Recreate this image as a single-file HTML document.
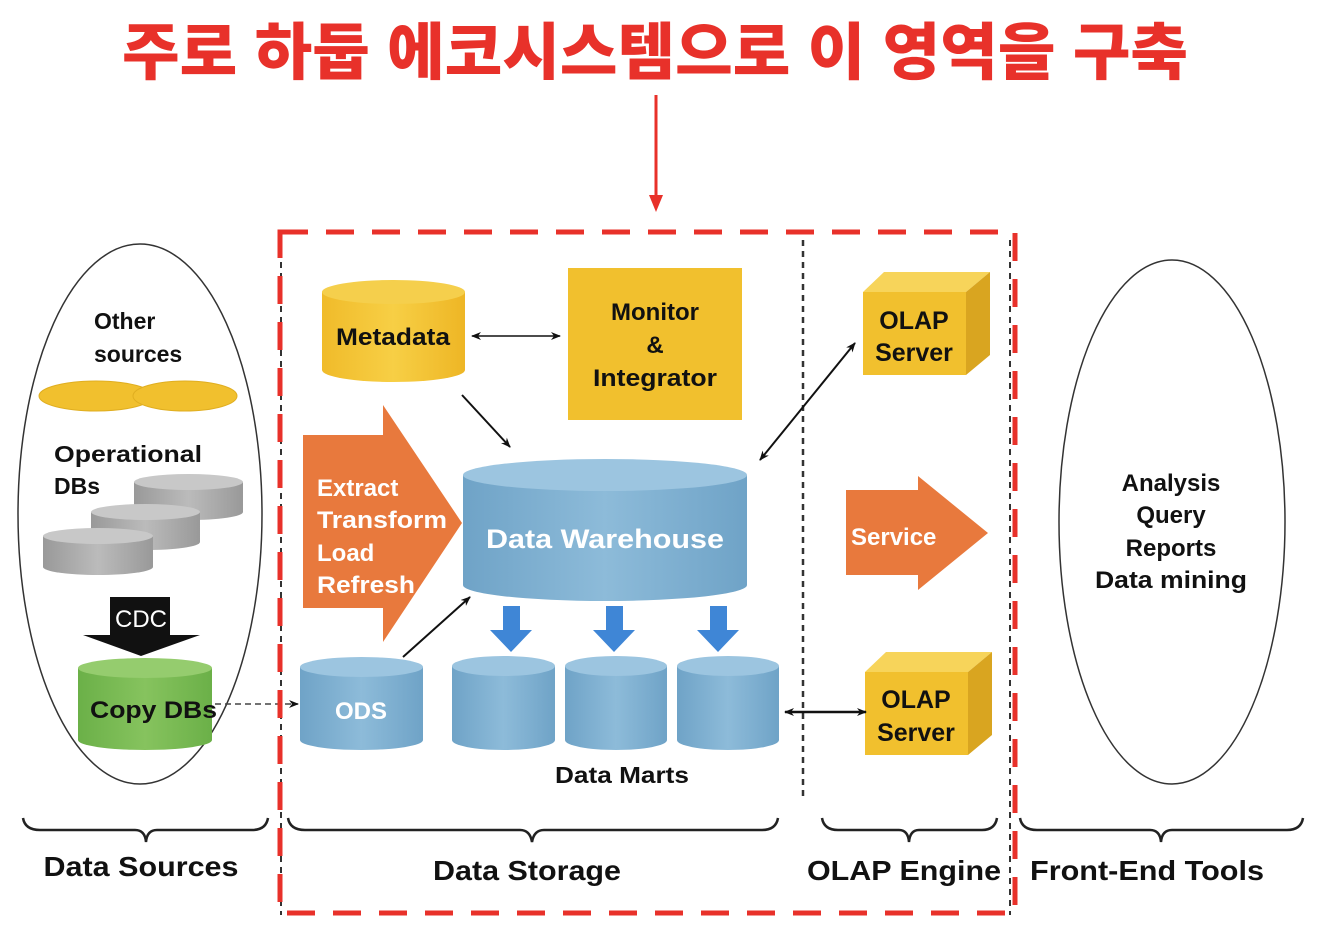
<!DOCTYPE html>
<html><head><meta charset="utf-8"><style>
html,body{margin:0;padding:0;background:#fff}
svg{display:block}
text{font-family:"Liberation Sans",Arial,sans-serif;font-weight:bold}
</style></head><body>
<svg width="1326" height="940" viewBox="0 0 1326 940" xmlns="http://www.w3.org/2000/svg">
<defs>
<marker id="a" markerWidth="10" markerHeight="8" refX="9" refY="4" orient="auto-start-reverse" markerUnits="userSpaceOnUse"><path d="M0,0 L10,4 L0,8 L3,4z" fill="#111"/></marker>
<linearGradient id="blue" x1="0" x2="1"><stop offset="0" stop-color="#6fa3c7"/><stop offset=".5" stop-color="#8dbbd9"/><stop offset="1" stop-color="#6fa3c7"/></linearGradient>
<linearGradient id="yel" x1="0" x2="1"><stop offset="0" stop-color="#f0bb2a"/><stop offset=".5" stop-color="#f7cf45"/><stop offset="1" stop-color="#eeb625"/></linearGradient>
<linearGradient id="gry" x1="0" x2="1"><stop offset="0" stop-color="#999"/><stop offset=".5" stop-color="#bbb"/><stop offset="1" stop-color="#999"/></linearGradient>
<linearGradient id="grn" x1="0" x2="1"><stop offset="0" stop-color="#6bb048"/><stop offset=".5" stop-color="#86c35e"/><stop offset="1" stop-color="#6bb048"/></linearGradient>
</defs>

<text x="655" y="74" text-anchor="middle" font-size="62" textLength="1066" lengthAdjust="spacingAndGlyphs" fill="#e8312a" style="font-family:'Liberation Sans','Noto Sans CJK KR',sans-serif;font-weight:900">주로 하둡 에코시스템으로 이 영역을 구축</text>
<line x1="656" y1="95" x2="656" y2="198" stroke="#e8312a" stroke-width="3"/>
<path d="M649,195 L663,195 L656,212z" fill="#e8312a"/>

<ellipse cx="140" cy="514" rx="122" ry="270" fill="none" stroke="#333" stroke-width="1.5"/>
<ellipse cx="1172" cy="522" rx="113" ry="262" fill="none" stroke="#333" stroke-width="1.5"/>

<line x1="281" y1="240" x2="281" y2="915" stroke="#333" stroke-width="2" stroke-dasharray="6,5"/>
<line x1="803" y1="240" x2="803" y2="800" stroke="#333" stroke-width="2.5" stroke-dasharray="6,5"/>
<line x1="1010" y1="240" x2="1010" y2="915" stroke="#333" stroke-width="2" stroke-dasharray="6,5"/>

<text x="94" y="329" font-size="23" fill="#111">Other</text>
<text x="94" y="362" font-size="23" fill="#111">sources</text>
<ellipse cx="96" cy="396" rx="57" ry="15" fill="#f1c02e" stroke="#e0ae20"/>
<ellipse cx="185" cy="396" rx="52" ry="15" fill="#f1c02e" stroke="#e0ae20"/>
<text x="54" y="462" font-size="23" fill="#111" textLength="148" lengthAdjust="spacingAndGlyphs">Operational</text>
<text x="54" y="494" font-size="23" fill="#111">DBs</text>
<g>
<path d="M134,482 V512 A54,8 0 0 0 243,512 V482z" fill="url(#gry)"/><ellipse cx="188.5" cy="482" rx="54.5" ry="8" fill="#c8c8c8"/>
<path d="M91,512 V542 A54,8 0 0 0 200,542 V512z" fill="url(#gry)"/><ellipse cx="145.5" cy="512" rx="54.5" ry="8" fill="#c8c8c8"/>
<path d="M43,536 V567 A55,8 0 0 0 153,567 V536z" fill="url(#gry)"/><ellipse cx="98" cy="536" rx="55" ry="8" fill="#c8c8c8"/>
</g>
<path d="M110,597 H170 V635 H200 L141,656 L83,635 H110z" fill="#111"/>
<text x="141" y="627" text-anchor="middle" font-size="24" fill="#fff" style="font-weight:normal">CDC</text>
<path d="M78,668 V740 A67,10 0 0 0 212,740 V668z" fill="url(#grn)"/><ellipse cx="145" cy="668" rx="67" ry="10" fill="#95cc6e"/>
<text x="90" y="718" font-size="24" fill="#111" textLength="127" lengthAdjust="spacingAndGlyphs">Copy DBs</text>
<line x1="215" y1="704" x2="298" y2="704" stroke="#444" stroke-width="1.5" stroke-dasharray="6,4" marker-end="url(#a)"/>

<path d="M322,292 V370 A71.5,12 0 0 0 465,370 V292z" fill="url(#yel)"/><ellipse cx="393.5" cy="292" rx="71.5" ry="12" fill="#f5cf4c"/>
<text x="393" y="345" text-anchor="middle" font-size="24" fill="#111" textLength="114" lengthAdjust="spacingAndGlyphs">Metadata</text>
<rect x="568" y="268" width="174" height="152" fill="#f1c02e"/>
<text x="655" y="320" text-anchor="middle" font-size="24" fill="#111">Monitor</text>
<text x="655" y="353" text-anchor="middle" font-size="24" fill="#111">&amp;</text>
<text x="655" y="386" text-anchor="middle" font-size="24" fill="#111" textLength="124" lengthAdjust="spacingAndGlyphs">Integrator</text>
<line x1="472" y1="336" x2="560" y2="336" stroke="#111" stroke-width="1.5" marker-start="url(#a)" marker-end="url(#a)"/>
<line x1="462" y1="395" x2="510" y2="447" stroke="#111" stroke-width="2" marker-end="url(#a)"/>

<path d="M303,435 H383 V405 L462,523 L383,642 V608 H303z" fill="#e8793d"/>
<text x="317" y="496" font-size="24" fill="#fff">Extract</text>
<text x="317" y="528" font-size="24" fill="#fff" textLength="130" lengthAdjust="spacingAndGlyphs">Transform</text>
<text x="317" y="561" font-size="24" fill="#fff">Load</text>
<text x="317" y="593" font-size="24" fill="#fff" textLength="98" lengthAdjust="spacingAndGlyphs">Refresh</text>

<path d="M463,475 V585 A142,16 0 0 0 747,585 V475z" fill="url(#blue)"/><ellipse cx="605" cy="475" rx="142" ry="16" fill="#9cc5e0"/>
<text x="605" y="548" text-anchor="middle" font-size="27" fill="#fff" textLength="238" lengthAdjust="spacingAndGlyphs">Data Warehouse</text>

<path d="M300,667 V740 A61.5,10 0 0 0 423,740 V667z" fill="url(#blue)"/><ellipse cx="361.5" cy="667" rx="61.5" ry="10" fill="#9cc5e0"/>
<text x="361" y="719" text-anchor="middle" font-size="24" fill="#fff">ODS</text>
<line x1="403" y1="657" x2="470" y2="597" stroke="#111" stroke-width="2" marker-end="url(#a)"/>
<g>
<path d="M452,666 V740 A51.5,10 0 0 0 555,740 V666z" fill="url(#blue)"/><ellipse cx="503.5" cy="666" rx="51.5" ry="10" fill="#9cc5e0"/>
<path d="M565,666 V740 A51,10 0 0 0 667,740 V666z" fill="url(#blue)"/><ellipse cx="616" cy="666" rx="51" ry="10" fill="#9cc5e0"/>
<path d="M677,666 V740 A51,10 0 0 0 779,740 V666z" fill="url(#blue)"/><ellipse cx="728" cy="666" rx="51" ry="10" fill="#9cc5e0"/>
</g>
<g fill="#3f86d6">
<path d="M503,606 H520 V630 H532 L511,652 L490,630 H503z"/>
<path d="M606,606 H623 V630 H635 L614,652 L593,630 H606z"/>
<path d="M710,606 H727 V630 H739 L718,652 L697,630 H710z"/>
</g>
<text x="622" y="783" text-anchor="middle" font-size="23" fill="#111" textLength="134" lengthAdjust="spacingAndGlyphs">Data Marts</text>

<g>
<rect x="863" y="292" width="103" height="83" fill="#f1c02e"/>
<path d="M863,292 L884,272 H990 L966,292z" fill="#f7d45a"/>
<path d="M966,292 L990,272 V355 L966,375z" fill="#d9a520"/>
<text x="914" y="329" text-anchor="middle" font-size="25" fill="#111">OLAP</text>
<text x="914" y="361" text-anchor="middle" font-size="25" fill="#111">Server</text>
</g>
<g>
<rect x="865" y="672" width="103" height="83" fill="#f1c02e"/>
<path d="M865,672 L886,652 H992 L968,672z" fill="#f7d45a"/>
<path d="M968,672 L992,652 V735 L968,755z" fill="#d9a520"/>
<text x="916" y="708" text-anchor="middle" font-size="25" fill="#111">OLAP</text>
<text x="916" y="741" text-anchor="middle" font-size="25" fill="#111">Server</text>
</g>
<line x1="760" y1="460" x2="855" y2="343" stroke="#111" stroke-width="2" marker-start="url(#a)" marker-end="url(#a)"/>
<line x1="785" y1="712" x2="866" y2="712" stroke="#111" stroke-width="2.5" marker-start="url(#a)" marker-end="url(#a)"/>
<path d="M846,490 H918 V476 L988,533 L918,590 V575 H846z" fill="#e8793d"/>
<text x="851" y="545" font-size="24" fill="#fff">Service</text>

<text x="1171" y="491" text-anchor="middle" font-size="24" fill="#111">Analysis</text>
<text x="1171" y="523" text-anchor="middle" font-size="24" fill="#111">Query</text>
<text x="1171" y="556" text-anchor="middle" font-size="24" fill="#111">Reports</text>
<text x="1171" y="588" text-anchor="middle" font-size="24" fill="#111" textLength="152" lengthAdjust="spacingAndGlyphs">Data mining</text>

<g fill="none" stroke="#222" stroke-width="2.5">
<path d="M23,818 Q25,830 40,830 H135 Q145,830 146,842 Q147,830 157,830 H252 Q266,830 268,818"/>
<path d="M288,818 Q290,830 305,830 H520 Q530,830 532,842 Q534,830 544,830 H762 Q776,830 778,818"/>
<path d="M822,818 Q824,830 838,830 H899 Q908,830 909,842 Q910,830 919,830 H982 Q995,830 997,818"/>
<path d="M1020,818 Q1022,830 1037,830 H1150 Q1160,830 1161,842 Q1162,830 1172,830 H1287 Q1301,830 1303,818"/>
</g>
<text x="141" y="876" text-anchor="middle" font-size="28" fill="#111" textLength="195" lengthAdjust="spacingAndGlyphs">Data Sources</text>
<text x="527" y="880" text-anchor="middle" font-size="28" fill="#111" textLength="188" lengthAdjust="spacingAndGlyphs">Data Storage</text>
<text x="904" y="880" text-anchor="middle" font-size="28" fill="#111" textLength="194" lengthAdjust="spacingAndGlyphs">OLAP Engine</text>
<text x="1147" y="880" text-anchor="middle" font-size="28" fill="#111" textLength="234" lengthAdjust="spacingAndGlyphs">Front-End Tools</text>

<rect x="280" y="232" width="735" height="681" fill="none" stroke="#e8312a" stroke-width="5" stroke-dasharray="28,18"/>
</svg>
</body></html>
